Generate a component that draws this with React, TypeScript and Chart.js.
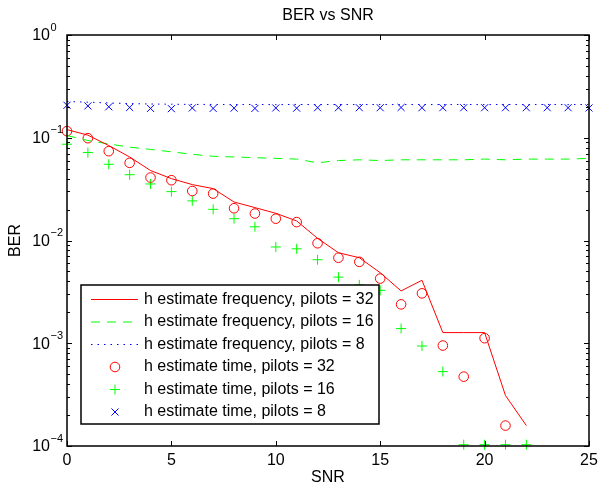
import React, { useEffect, useRef } from 'react';
import { Chart, registerables } from 'chart.js';

Chart.register(...registerables);

// ---- Data ----
const snr = [0, 1, 2, 3, 4, 5, 6, 7, 8, 9, 10, 11, 12, 13, 14, 15, 16, 17, 18, 19, 20, 21, 22, 23, 24, 25];

// h estimate frequency, pilots = 32 (SNR 0..22)
const freqPilots32 = [0.12, 0.106, 0.084, 0.065, 0.048, 0.040, 0.035, 0.032, 0.0237, 0.0209, 0.0184, 0.0155, 0.0105, 0.0076, 0.0068, 0.00486, 0.00323, 0.0041, 0.00127, 0.00127, 0.00127, 0.00031, 0.000158];
// h estimate frequency, pilots = 16 (SNR 0..25)
const freqPilots16 = [0.105, 0.094, 0.087, 0.081, 0.077, 0.073, 0.069, 0.066, 0.065, 0.064, 0.063, 0.062, 0.057, 0.060, 0.061, 0.060, 0.061, 0.061, 0.061, 0.061, 0.062, 0.061, 0.062, 0.062, 0.062, 0.063];
// h estimate frequency, pilots = 8 (SNR 0..25)
const freqPilots8 = [0.225, 0.222, 0.218, 0.215, 0.213, 0.212, 0.211, 0.211, 0.21, 0.211, 0.21, 0.211, 0.21, 0.211, 0.21, 0.211, 0.21, 0.211, 0.21, 0.211, 0.21, 0.211, 0.21, 0.211, 0.21, 0.211];
// h estimate time, pilots = 32 (SNR 0..21)
const timePilots32 = [0.116, 0.099, 0.074, 0.057, 0.041, 0.0386, 0.0303, 0.0286, 0.0206, 0.0183, 0.0163, 0.0151, 0.0094, 0.0068, 0.0062, 0.00426, 0.00239, 0.00306, 0.00095, 0.000473, 0.00112, 0.000158];
// h estimate time, pilots = 16 (SNR 0..22)
const timePilots16 = [0.0865, 0.0718, 0.0552, 0.0437, 0.0355, 0.0299, 0.0243, 0.0201, 0.0163, 0.0136, 0.00865, 0.0083, 0.0065, 0.0044, 0.0037, 0.00327, 0.00139, 0.00094, 0.00053, 0.000103, 0.000103, 0.000103, 0.000103];
// h estimate time, pilots = 8 (SNR 0..25)
const timePilots8 = [0.207, 0.204, 0.2, 0.197, 0.193, 0.192, 0.195, 0.193, 0.194, 0.193, 0.195, 0.194, 0.196, 0.196, 0.196, 0.196, 0.197, 0.196, 0.196, 0.196, 0.196, 0.196, 0.196, 0.196, 0.196, 0.195];

const seriesLabels = [
  'h estimate frequency, pilots = 32',
  'h estimate frequency, pilots = 16',
  'h estimate frequency, pilots = 8',
  'h estimate time, pilots = 32',
  'h estimate time, pilots = 16',
  'h estimate time, pilots = 8',
];

const xTicks = [0, 5, 10, 15, 20, 25];
const yDecades = [-4, -3, -2, -1, 0];

const titleText = 'BER vs SNR';
const xTitle = 'SNR';
const yTitle = 'BER';

const FONT = '"Liberation Sans", Arial, Helvetica, sans-serif';
const RED = '#ff0000';
const GREEN = '#00ff00';
const BLUE = '#0000ff';

const toPoints = (vals: number[]) => vals.map((v, i) => ({ x: snr[i], y: v }));

function drawMarker(ctx: CanvasRenderingContext2D, style: string, x: number, y: number, r: number) {
  ctx.beginPath();
  if (style === 'circle') {
    ctx.arc(x, y, r, 0, Math.PI * 2);
  } else if (style === 'cross') {
    ctx.moveTo(x - r, y);
    ctx.lineTo(x + r, y);
    ctx.moveTo(x, y - r);
    ctx.lineTo(x, y + r);
  } else if (style === 'crossRot') {
    const o = r * Math.SQRT1_2;
    ctx.moveTo(x - o, y - o);
    ctx.lineTo(x + o, y + o);
    ctx.moveTo(x - o, y + o);
    ctx.lineTo(x + o, y - o);
  }
  ctx.stroke();
}

const matlabPlugin = {
  id: 'matlabLook',
  afterDraw(chart: any) {
    const { ctx, chartArea: a, scales } = chart;
    const xs = scales.x;
    const ys = scales.y;
    ctx.save();

    // tick marks (inward, all four sides)
    ctx.strokeStyle = '#000';
    ctx.lineWidth = 1;
    ctx.beginPath();
    xTicks.forEach((t) => {
      const px = Math.round(xs.getPixelForValue(t)) + 0.5;
      ctx.moveTo(px, a.bottom);
      ctx.lineTo(px, a.bottom - 5);
      ctx.moveTo(px, a.top);
      ctx.lineTo(px, a.top + 5);
    });
    yDecades.forEach((d) => {
      const py = Math.round(ys.getPixelForValue(Math.pow(10, d))) + 0.5;
      ctx.moveTo(a.left, py);
      ctx.lineTo(a.left + 5, py);
      ctx.moveTo(a.right, py);
      ctx.lineTo(a.right - 5, py);
      if (d < 0) {
        for (let m = 2; m <= 9; m++) {
          const pm = Math.round(ys.getPixelForValue(m * Math.pow(10, d))) + 0.5;
          ctx.moveTo(a.left, pm);
          ctx.lineTo(a.left + 3, pm);
          ctx.moveTo(a.right, pm);
          ctx.lineTo(a.right - 3, pm);
        }
      }
    });
    ctx.stroke();

    // axes box
    ctx.lineWidth = 1.5;
    ctx.strokeRect(a.left, a.top, a.right - a.left, a.bottom - a.top);

    // tick labels
    ctx.fillStyle = '#000';
    ctx.font = `16px ${FONT}`;
    ctx.textAlign = 'center';
    ctx.textBaseline = 'middle';
    xTicks.forEach((t) => {
      ctx.fillText(String(t), xs.getPixelForValue(t), a.bottom + 15);
    });
    yDecades.forEach((d) => {
      const py = ys.getPixelForValue(Math.pow(10, d));
      ctx.font = `16px ${FONT}`;
      ctx.textAlign = 'right';
      ctx.fillText('10', a.left - 17, py + 1);
      ctx.font = `11px ${FONT}`;
      ctx.textAlign = 'left';
      ctx.fillText(d === 0 ? '0' : '\u2212' + String(-d), a.left - 16.5, py - 7.5);
    });

    // title and axis titles
    ctx.font = `16px ${FONT}`;
    ctx.textAlign = 'center';
    ctx.fillText(titleText, (a.left + a.right) / 2, 16);
    ctx.fillText(xTitle, (a.left + a.right) / 2, 478);
    ctx.save();
    ctx.translate(16, (a.top + a.bottom) / 2);
    ctx.rotate(-Math.PI / 2);
    ctx.fillText(yTitle, 0, 0);
    ctx.restore();

    // legend box
    const lx = 81, ly = 285, lw = 298, lh = 139;
    ctx.fillStyle = '#fff';
    ctx.fillRect(lx, ly, lw, lh);
    ctx.strokeStyle = '#000';
    ctx.lineWidth = 1.5;
    ctx.strokeRect(lx, ly, lw, lh);
    const rows = [299.5, 322, 344.5, 367, 389.5, 412];
    const ds = chart.data.datasets;
    rows.forEach((ry, i) => {
      const d = ds[i];
      ctx.save();
      if (d.showLine !== false) {
        ctx.strokeStyle = d.borderColor;
        ctx.lineWidth = d.borderWidth;
        ctx.setLineDash(d.borderDash || []);
        ctx.beginPath();
        ctx.moveTo(91, ry);
        ctx.lineTo(138, ry);
        ctx.stroke();
      } else {
        ctx.strokeStyle = d.pointBorderColor;
        ctx.lineWidth = 1;
        ctx.setLineDash([]);
        drawMarker(ctx, d.pointStyle, 115, ry, d.pointRadius);
      }
      ctx.restore();
      ctx.fillStyle = '#000';
      ctx.font = `16px ${FONT}`;
      ctx.textAlign = 'left';
      ctx.textBaseline = 'middle';
      ctx.fillText(seriesLabels[i], 144, ry);
    });

    ctx.restore();
  },
};

export default function App() {
  const canvasRef = useRef<HTMLCanvasElement | null>(null);

  useEffect(() => {
    if (!canvasRef.current) return;
    const lineDs = (label: string, vals: number[], color: string, dash: number[]) => ({
      label,
      data: toPoints(vals),
      borderColor: color,
      backgroundColor: color,
      borderWidth: 1,
      borderDash: dash,
      pointRadius: 0,
      showLine: true,
      fill: false,
      tension: 0,
    });
    const markerDs = (label: string, vals: number[], color: string, style: string, r: number) => ({
      label,
      data: toPoints(vals),
      showLine: false,
      borderColor: color,
      backgroundColor: 'rgba(0,0,0,0)',
      pointStyle: style,
      pointRadius: r,
      pointBorderColor: color,
      pointBackgroundColor: 'rgba(0,0,0,0)',
      pointBorderWidth: 1,
      clip: false,
    });

    const chart = new Chart(canvasRef.current, {
      type: 'scatter',
      data: {
        datasets: [
          lineDs(seriesLabels[0], freqPilots32, RED, []),
          lineDs(seriesLabels[1], freqPilots16, GREEN, [9, 7]),
          lineDs(seriesLabels[2], freqPilots8, BLUE, [1.5, 5]),
          markerDs(seriesLabels[3], timePilots32, RED, 'circle', 4.8),
          markerDs(seriesLabels[4], timePilots16, GREEN, 'cross', 5),
          markerDs(seriesLabels[5], timePilots8, BLUE, 'crossRot', 5),
        ] as any,
      },
      options: {
        animation: false,
        responsive: false,
        events: [],
        layout: { padding: { left: 67, right: 9, top: 35, bottom: 40 } },
        scales: {
          x: { type: 'linear', min: 0, max: 25, display: false },
          y: { type: 'logarithmic', min: 1e-4, max: 1, display: false },
        },
        plugins: {
          legend: { display: false },
          title: { display: false },
          tooltip: { enabled: false },
        },
      },
      plugins: [matlabPlugin as any],
    });
    return () => chart.destroy();
  }, []);

  return (
    <div style={{ position: 'fixed', left: 0, top: 0, width: 598, height: 486, background: '#fff' }}>
      <canvas ref={canvasRef} width={598} height={486} style={{ width: 598, height: 486, display: 'block' }} />
    </div>
  );
}
